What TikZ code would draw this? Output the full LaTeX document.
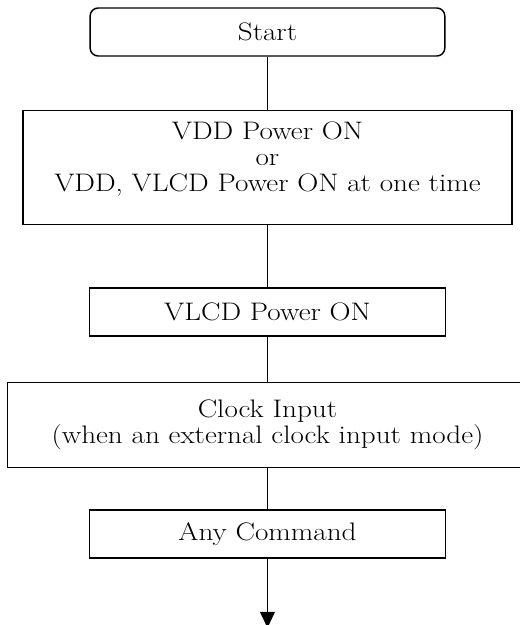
\documentclass[tikz,border=0pt]{standalone}
\usepackage{fontspec}
\setmainfont[FakeStretch=1.15]{Latin Modern Roman}
\usetikzlibrary{positioning,arrows.meta}
\tikzset{
  stepbox/.style={draw=black,line width=1.1pt,minimum height=36pt,align=center,inner sep=0pt,font=\fontsize{19}{19.5}\selectfont},
  startbox/.style={stepbox,rounded corners=6pt},
  lnk/.style={line width=1.1pt},
  lnkend/.style={lnk,-{Triangle[length=12pt,width=11pt]}},
}
\begin{document}
\begin{tikzpicture}[node distance=36pt]
  \useasboundingbox (0,0) rectangle (389.25pt,-468.75pt);
  \node[startbox,minimum width=266pt] (start) at (200.6pt,-24pt) {Start};
  \node[stepbox,minimum width=367pt,minimum height=85.5pt,below=39.75pt of start] (vdd) {VDD Power ON\\or\\VDD, VLCD Power ON at one time\\[-4pt]\mbox{}};
  \node[stepbox,minimum width=267pt,below=46.5pt of vdd] (vlcd) {VLCD Power ON};
  \node[stepbox,minimum width=390pt,minimum height=63.75pt,below=33.75pt of vlcd] (clk) {Clock Input\\(when an external clock input mode)\\[-14pt]\mbox{}};
  \node[stepbox,minimum width=267pt,below=30.75pt of clk] (any) {Any Command};
  \coordinate[below=52pt of any] (out);
  \draw[lnk](start)--(vdd);
  \draw[lnk](vdd)--(vlcd);
  \draw[lnk](vlcd)--(clk);
  \draw[lnk](clk)--(any);
  \draw[lnkend](any)--(out);
\end{tikzpicture}
\end{document}
